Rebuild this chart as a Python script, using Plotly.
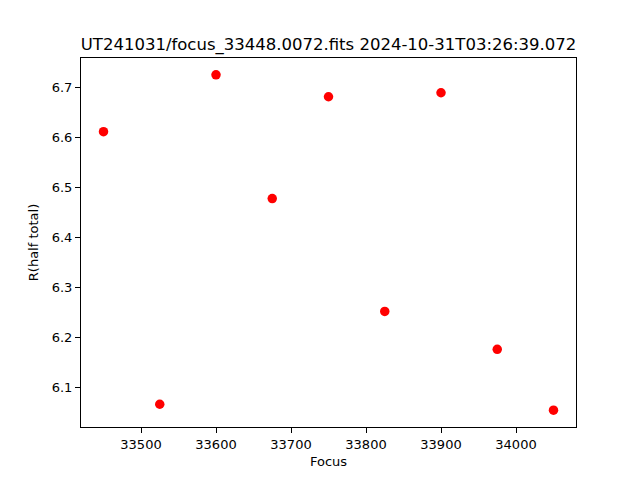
import plotly.graph_objects as go

focus = [33450, 33525, 33600, 33675, 33750, 33825, 33900, 33975, 34050]
r_half = [6.612, 6.066, 6.726, 6.478, 6.682, 6.252, 6.690, 6.176, 6.054]
x_ticks = [33500, 33600, 33700, 33800, 33900, 34000]
y_ticks = [6.1, 6.2, 6.3, 6.4, 6.5, 6.6, 6.7]

fig = go.Figure(go.Scatter(x=focus, y=r_half, mode="markers",
                           marker=dict(color="red", size=9.5)))

ax = dict(showline=True, linecolor="black", linewidth=1, mirror=True,
          ticks="outside", ticklen=5, tickcolor="black", showgrid=False,
          zeroline=False, tickfont=dict(size=13, color="black"))
W, H = 632, 472
fig.update_layout(
    width=W, height=H,
    margin=dict(l=73, r=64, t=50, b=53),
    paper_bgcolor="white", plot_bgcolor="white",
    font=dict(family="DejaVu Sans", color="black"),
    title=dict(text="UT241031/focus_33448.0072.fits 2024-10-31T03:26:39.072",
               x=320.5 / W, xanchor="center", y=1 - 36 / H, yanchor="middle",
               font=dict(size=16.5, color="black")),
    xaxis=dict(ax, range=[33420, 34080], tickvals=x_ticks,
               ticktext=[str(v) for v in x_ticks],
               title=dict(text="Focus", font=dict(size=13), standoff=6)),
    yaxis=dict(ax, range=[6.0204, 6.7596], tickvals=y_ticks,
               ticktext=[f"{v:.1f}" for v in y_ticks],
               title=dict(text="R(half total)", font=dict(size=13), standoff=10)),
    showlegend=False,
)
fig.write_html("out.html")
